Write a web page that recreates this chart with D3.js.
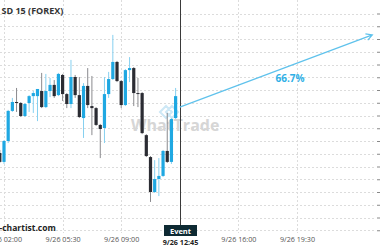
<!DOCTYPE html>

<head>
    <meta charset="utf-8">
    <script src="https://d3js.org/d3.v7.min.js"></script>
    <style>
        body {
            margin: 0;
            background: #fff;
        }

        svg {
            display: block;
            font-family: "Open Sans", sans-serif;
        }
    </style>
</head>

<body>
    <script>
        // 15 minute candles, first one at 9/26 01:45
        const firstCandle = new Date(2019, 8, 26, 1, 45);
        const opens = [1.10003, 1.09968, 1.10050, 1.10168, 1.10203, 1.10199, 1.10148, 1.10199, 1.10226, 1.10226, 1.10246, 1.10183, 1.10246, 1.10270, 1.10230, 1.10309, 1.10234, 1.10195, 1.10301, 1.10230, 1.10140, 1.10266, 1.10187, 1.10179, 1.10113, 1.10101, 1.10234, 1.10293, 1.10360, 1.10285, 1.10191, 1.10328, 1.10336, 1.10238, 1.10238, 1.10073, 1.09987, 1.09850, 1.09901, 1.09913, 1.10011, 1.09968, 1.10140];
        const highs = [1.10015, 1.10054, 1.10172, 1.10219, 1.10258, 1.10203, 1.10199, 1.10230, 1.10246, 1.10254, 1.10317, 1.10313, 1.10297, 1.10289, 1.10317, 1.10313, 1.10238, 1.10368, 1.10309, 1.10301, 1.10277, 1.10336, 1.10305, 1.10183, 1.10117, 1.10301, 1.10321, 1.10466, 1.10364, 1.10289, 1.10332, 1.10379, 1.10340, 1.10297, 1.10242, 1.10077, 1.09991, 1.09975, 1.09983, 1.10015, 1.10160, 1.10140, 1.10258];
        const lows = [1.09964, 1.09960, 1.10042, 1.10164, 1.10164, 1.10144, 1.10144, 1.10164, 1.10160, 1.10128, 1.10179, 1.10179, 1.10222, 1.10219, 1.10226, 1.10207, 1.10179, 1.10179, 1.10219, 1.10140, 1.10062, 1.10179, 1.10073, 1.10109, 1.09983, 1.10042, 1.10219, 1.10289, 1.10281, 1.10179, 1.10187, 1.10281, 1.10187, 1.10183, 1.10077, 1.09987, 1.09811, 1.09846, 1.09834, 1.09909, 1.09964, 1.09960, 1.10136];
        const closes = [1.09968, 1.10050, 1.10168, 1.10203, 1.10201, 1.10148, 1.10195, 1.10226, 1.10238, 1.10254, 1.10183, 1.10246, 1.10270, 1.10226, 1.10313, 1.10234, 1.10195, 1.10301, 1.10230, 1.10144, 1.10266, 1.10191, 1.10179, 1.10113, 1.10097, 1.10234, 1.10293, 1.10360, 1.10285, 1.10191, 1.10328, 1.10336, 1.10238, 1.10236, 1.10081, 1.09991, 1.09850, 1.09901, 1.09913, 1.10011, 1.09968, 1.10136, 1.10226];

        const gridTimes = [new Date(2019, 8, 26, 2, 0), new Date(2019, 8, 26, 5, 30), new Date(2019, 8, 26, 9, 0),
        new Date(2019, 8, 26, 12, 30), new Date(2019, 8, 26, 16, 0), new Date(2019, 8, 26, 19, 30)];
        const tickTimes = [new Date(2019, 8, 26, 2, 0), new Date(2019, 8, 26, 5, 30), new Date(2019, 8, 26, 9, 0),
        new Date(2019, 8, 26, 16, 0), new Date(2019, 8, 26, 19, 30)];
        const tickLabels = ["9/26 02:00", "9/26 05:30", "9/26 09:00", "9/26 16:00", "9/26 19:30"];

        const eventTime = new Date(2019, 8, 26, 12, 30);
        const eventLabel = "9/26 12:45";
        const forecastTimes = [eventTime, new Date(2019, 8, 27, 0, 0)];
        const forecastPrices = [1.10183, 1.10466];
        const forecastLabel = "66.7%";

        const W = 380, H = 250;
        const blue = "#1fa8e2", blueWick = "#86d0f0", dark = "#2b2c33", darkWick = "#8a8a8e";

        const svg = d3.select("body").append("svg").attr("width", W).attr("height", H);

        const x = d3.scaleTime()
            .domain([new Date(2019, 8, 26, 2, 0), new Date(2019, 8, 26, 19, 30)])
            .range([4, 297]);
        const y = d3.scaleLinear().domain([1.0970, 1.1055]).range([230.25, 13.5]);

        const candles = opens.map((o, i) => ({
            t: d3.timeMinute.offset(firstCandle, 15 * i),
            o: o, h: highs[i], l: lows[i], c: closes[i]
        }));

        // grid
        const grid = svg.append("g").attr("stroke", "#dcdcdc").attr("stroke-dasharray", "2,2");
        grid.selectAll("line.h").data(y.ticks(17)).enter().append("line")
            .attr("x1", 0).attr("x2", 376)
            .attr("y1", d => Math.round(y(d)) + 0.5).attr("y2", d => Math.round(y(d)) + 0.5);
        grid.selectAll("line.v").data(gridTimes).enter().append("line")
            .attr("x1", d => Math.round(x(d)) + 0.5).attr("x2", d => Math.round(x(d)) + 0.5)
            .attr("y1", 0).attr("y2", 233);

        // right axis ticks (labels fall outside the frame)
        svg.append("g")
            .attr("transform", "translate(377,0)")
            .call(d3.axisRight(y).tickValues(y.ticks(17)).tickSize(3).tickFormat(""))
            .call(g => g.select(".domain").remove())
            .selectAll("line").attr("stroke", "#888");

        // watermark
        const wm = svg.append("g");
        wm.append("path")
            .attr("d", "M160,112 l6,-6 l6,6 l-6,6 z M166,112 l6,-6 l6,6 l-6,6 z")
            .attr("fill", "none").attr("stroke", "#cde8f6").attr("stroke-width", 2);
        wm.append("text").attr("x", 131).attr("y", 131)
            .attr("font-size", 16).attr("font-weight", "bold").attr("fill", "#d6d6d6")
            .text("WhatTrade");

        // candles
        const cw = 3.2;
        const cg = svg.append("g");
        cg.selectAll("line").data(candles).enter().append("line")
            .attr("x1", d => x(d.t)).attr("x2", d => x(d.t))
            .attr("y1", d => y(d.h)).attr("y2", d => y(d.l))
            .attr("stroke", d => d.c >= d.o ? blueWick : darkWick).attr("stroke-width", 1);
        cg.selectAll("rect").data(candles).enter().append("rect")
            .attr("x", d => x(d.t) - cw / 2).attr("width", cw)
            .attr("y", d => y(Math.max(d.o, d.c)))
            .attr("height", d => Math.max(1, Math.abs(y(d.o) - y(d.c))))
            .attr("fill", d => d.c >= d.o ? blue : dark);

        // event line
        const ex = Math.round(x(eventTime)) + 0.5;
        svg.append("line").attr("x1", ex).attr("x2", ex).attr("y1", 0).attr("y2", 226)
            .attr("stroke", "#3a3a3a").attr("stroke-width", 1);
        svg.append("rect").attr("x", ex - 16.5).attr("y", 225).attr("width", 33).attr("height", 11)
            .attr("fill", "#0e2a33");
        svg.append("text").attr("x", ex).attr("y", 233.5).attr("text-anchor", "middle")
            .attr("font-size", 7.5).attr("font-weight", "bold").attr("fill", "#fff").text("Event");

        // forecast arrow
        const p0 = [x(forecastTimes[0]), y(forecastPrices[0])],
            p1 = [x(forecastTimes[1]), y(forecastPrices[1])];
        const ang = Math.atan2(p1[1] - p0[1], p1[0] - p0[0]);
        const ah = 7, spread = 0.5;
        svg.append("path")
            .attr("d", `M${p0[0]},${p0[1]}L${p1[0]},${p1[1]}` +
                `M${p1[0] - ah * Math.cos(ang - spread)},${p1[1] - ah * Math.sin(ang - spread)}L${p1[0]},${p1[1]}` +
                `L${p1[0] - ah * Math.cos(ang + spread)},${p1[1] - ah * Math.sin(ang + spread)}`)
            .attr("fill", "none").attr("stroke", "#5fc2ec").attr("stroke-width", 1.2);
        svg.append("text")
            .attr("x", (p0[0] + p1[0]) / 2 + 14).attr("y", (p0[1] + p1[1]) / 2 + 11)
            .attr("text-anchor", "middle").attr("font-size", 10).attr("font-weight", "bold")
            .attr("fill", "#2fb0e6").text(forecastLabel);

        // x axis labels
        svg.append("g")
            .attr("transform", "translate(0,237)")
            .call(d3.axisBottom(x).tickValues(tickTimes).tickSize(0).tickPadding(0)
                .tickFormat((d, i) => tickLabels[i]))
            .call(g => g.select(".domain").remove())
            .selectAll("text").attr("font-family", "Open Sans").attr("font-size", 7.2).attr("fill", "#555").attr("dy", "0.7em");
        svg.append("text").attr("x", ex).attr("y", 245).attr("text-anchor", "middle")
            .attr("font-size", 7.2).attr("font-weight", "bold").attr("fill", "#222").text(eventLabel);

        // title and source
        svg.append("text").attr("x", 1.5).attr("y", 13.5)
            .attr("font-size", 9).attr("font-weight", "bold").attr("fill", "#333").text("SD 15 (FOREX)");
        svg.append("text").attr("x", -0.5).attr("y", 231)
            .attr("font-size", 8.5).attr("font-weight", "bold").attr("fill", "#222").text("-chartist.com");
    </script>
</body>
